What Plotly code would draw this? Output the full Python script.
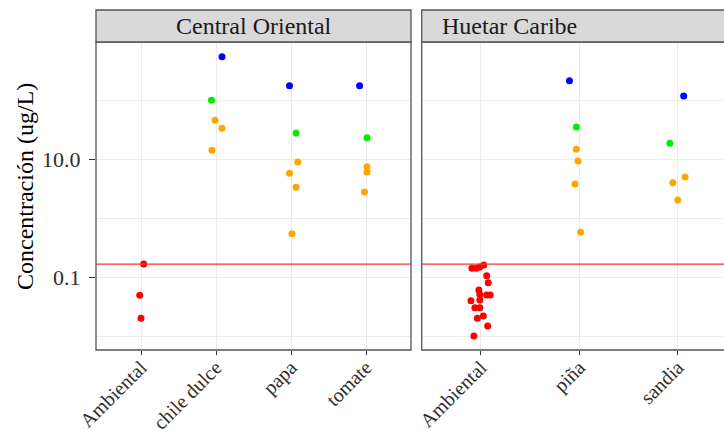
import plotly.graph_objects as go

# ---------------- data ----------------
CO_CATS = ["Ambiental", "chile dulce", "papa", "tomate"]
HC_CATS = ["Ambiental", "piña", "sandia"]
PANELS = ["Central Oriental", "Huetar Caribe"]

GROUP_COLORS = {"rojo": "#FF0000", "naranja": "#FFA500", "verde": "#00EE00", "azul": "#0000FF"}

co_crop = ["Ambiental", "Ambiental", "Ambiental",
           "chile dulce", "chile dulce", "chile dulce", "chile dulce", "chile dulce",
           "papa", "papa", "papa", "papa", "papa", "papa",
           "tomate", "tomate", "tomate", "tomate", "tomate"]
co_value = [0.17, 0.0505, 0.0206,
            541, 99, 45.6, 33.4, 14.2,
            175, 27.8, 9.0, 5.8, 3.37, 0.553,
            175, 23.2, 7.5, 6.1, 2.8]
co_group = ["rojo", "rojo", "rojo",
            "azul", "verde", "naranja", "naranja", "naranja",
            "azul", "verde", "naranja", "naranja", "naranja", "naranja",
            "azul", "verde", "naranja", "naranja", "naranja"]
co_jitter = [0.036, -0.017, 0.0,
             0.08, -0.06, -0.013, 0.08, -0.053,
             -0.02, 0.067, 0.09, -0.02, 0.067, 0.013,
             -0.085, 0.013, 0.013, 0.013, -0.02]

hc_crop = ["Ambiental"] * 18 + ["piña"] * 6 + ["sandia"] * 5
hc_value = [0.144, 0.144, 0.152, 0.164, 0.108, 0.082, 0.062, 0.051, 0.051,
            0.052, 0.041, 0.042, 0.031, 0.031, 0.0225, 0.0206, 0.0153, 0.0104,
            213, 35.2, 14.8, 9.35, 3.83, 0.585,
            117, 18.6, 5.0, 4.0, 2.05]
hc_group = ["rojo"] * 18 + ["azul", "verde", "naranja", "naranja", "naranja", "naranja"] \
           + ["azul", "verde", "naranja", "naranja", "naranja"]
hc_jitter = [-0.09, -0.045, -0.01, 0.03, 0.06, 0.075, -0.02, 0.06, 0.095,
             -0.01, -0.10, -0.01, -0.06, -0.01, 0.025, -0.035, 0.07, -0.07,
             -0.1, -0.03, -0.03, -0.013, -0.044, 0.013,
             0.06, -0.08, 0.074, -0.05, 0.0]

LIMIT = 0.17
Y_TICKS = [0.1, 10]
Y_TICK_TEXT = ["0.1", "10.0"]
Y_MINOR = [0.01, 1, 100]
Y_TITLE = "Concentración (ug/L)"

# ---------------- figure ----------------
W, H = 724, 435
FONT = "Liberation Serif"
L_X0, L_X1 = 96 / W, 411 / W
R_X0 = 421.7 / W
P_Y0, P_Y1 = 1 - 350 / H, 1 - 42 / H
S_Y1 = 1 - 10 / H

fig = go.Figure()


def add_panel(cats, crops, values, groups, jit, xa, ya):
    xs = [cats.index(c) + 1 + j for c, j in zip(crops, jit)]
    fig.add_trace(go.Scatter(
        x=xs, y=values, mode="markers", xaxis=xa, yaxis=ya,
        marker=dict(size=7, color=[GROUP_COLORS[g] for g in groups], line=dict(width=0)),
        showlegend=False, hoverinfo="x+y"))


add_panel(CO_CATS, co_crop, co_value, co_group, co_jitter, "x", "y")
add_panel(HC_CATS, hc_crop, hc_value, hc_group, hc_jitter, "x2", "y2")

grid = "#EBEBEB"
tick_col = "#2E2E2E"
common_x = dict(showgrid=True, gridcolor=grid, gridwidth=1.2, zeroline=False,
                ticks="outside", ticklen=4, tickcolor="#333333", tickwidth=1,
                ticklabelstandoff=-7,
                tickangle=-45, tickfont=dict(family=FONT, size=20, color=tick_col),
                showline=False, automargin=False)
common_y = dict(type="log", range=[-2.221, 2.981], tickvals=Y_TICKS, ticktext=Y_TICK_TEXT,
                showgrid=True, gridcolor=grid, gridwidth=1.2, zeroline=False,
                minor=dict(tickvals=Y_MINOR, showgrid=True, gridcolor=grid, gridwidth=0.7, ticklen=0),
                showline=False, automargin=False, domain=[P_Y0, P_Y1])

fig.update_layout(
    width=W, height=H, margin=dict(l=0, r=0, t=0, b=0),
    paper_bgcolor="white", plot_bgcolor="white",
    font=dict(family=FONT),
    xaxis=dict(domain=[L_X0, L_X1], range=[0.4, 4.6], tickmode="array",
               tickvals=list(range(1, len(CO_CATS) + 1)), ticktext=CO_CATS, anchor="y", **common_x),
    xaxis2=dict(domain=[R_X0, 1.0], range=[0.4, 0.4 + (W - 421.7) / 98.5], tickmode="array",
                tickvals=list(range(1, len(HC_CATS) + 1)), ticktext=HC_CATS, anchor="y2", **common_x),
    yaxis=dict(anchor="x", ticks="outside", ticklen=6, tickcolor="#333333", tickwidth=1,
               ticklabelstandoff=4,
               tickfont=dict(family=FONT, size=22, color=tick_col), **common_y),
    yaxis2=dict(anchor="x2", matches="y", showticklabels=False, ticks="", **common_y),
)

# limit line in each panel
for xr, yr in (("x domain", "y"), ("x2 domain", "y2")):
    fig.add_shape(type="line", xref=xr, yref=yr, x0=0, x1=1, y0=LIMIT, y1=LIMIT,
                  line=dict(color="#FF3030", width=1.2), layer="above")

# panel borders and strips
for x0, x1 in ((L_X0, L_X1), (R_X0, 1.06)):
    fig.add_shape(type="rect", xref="paper", yref="paper", x0=x0, x1=x1, y0=P_Y0, y1=P_Y1,
                  line=dict(color="#555555", width=1.3), fillcolor="rgba(0,0,0,0)", layer="above")
    fig.add_shape(type="rect", xref="paper", yref="paper", x0=x0, x1=x1, y0=P_Y1, y1=S_Y1,
                  line=dict(color="#555555", width=1.3), fillcolor="#D9D9D9", layer="above")

fig.add_annotation(text=PANELS[0], xref="paper", yref="paper", x=(L_X0 + L_X1) / 2,
                   y=(P_Y1 + S_Y1) / 2, showarrow=False, yanchor="middle",
                   font=dict(family=FONT, size=24, color="#1A1A1A"))
fig.add_annotation(text=PANELS[1], xref="paper", yref="paper", x=(R_X0 + 736.7 / W) / 2,
                   y=(P_Y1 + S_Y1) / 2, showarrow=False, yanchor="middle",
                   font=dict(family=FONT, size=24, color="#1A1A1A"))

fig.add_annotation(text=Y_TITLE, xref="paper", yref="paper", x=25 / W, y=1 - 187 / H,
                   textangle=-90, showarrow=False, xanchor="center", yanchor="middle",
                   font=dict(family=FONT, size=24, color="#000000"))

fig.write_html("out.html")
